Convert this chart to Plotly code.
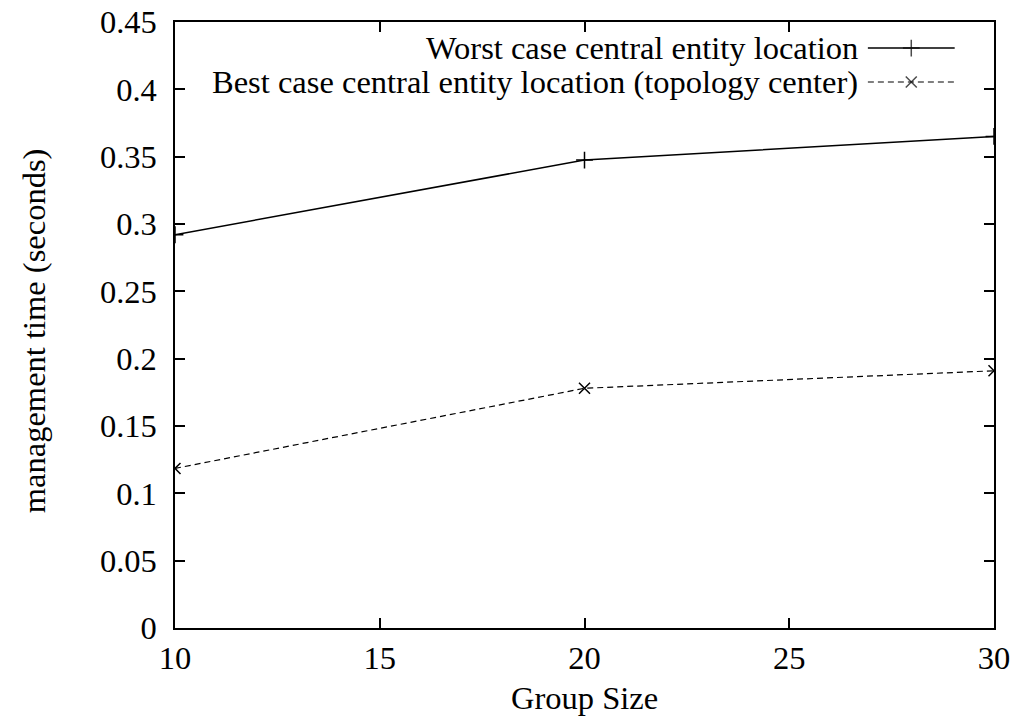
import plotly.graph_objects as go

# Group sizes and measured management time (seconds)
group_size = [10, 20, 30]
worst_case = [0.292, 0.3475, 0.365]
best_case = [0.1185, 0.178, 0.191]

series_names = [
    "Worst case central entity location",
    "Best case central entity location (topology center)",
]

y_ticks = [0, 0.05, 0.1, 0.15, 0.2, 0.25, 0.3, 0.35, 0.4, 0.45]
y_tick_text = ["0", "0.05", "0.1", "0.15", "0.2", "0.25", "0.3", "0.35", "0.4", "0.45"]
x_ticks = [10, 15, 20, 25, 30]

FONT = "Liberation Serif"
FS = 32.5

fig = go.Figure()

fig.add_trace(go.Scatter(
    x=group_size, y=worst_case, mode="lines+markers",
    line=dict(color="black", width=1.5),
    marker=dict(symbol="cross-thin", size=12, line=dict(color="black", width=1.5)),
    showlegend=False,
))
fig.add_trace(go.Scatter(
    x=group_size, y=best_case, mode="lines+markers",
    line=dict(color="black", width=1.2, dash="6px,4px"),
    marker=dict(symbol="x-thin", size=11, line=dict(color="black", width=1.5)),
    showlegend=False,
))

# gnuplot-style key: text right-aligned, sample line to its right
key_rows = [0.957, 0.901]
text_right = 0.836
line_x0, line_x1 = 0.846, 0.952
for i, (name, yk) in enumerate(zip(series_names, key_rows)):
    fig.add_annotation(
        x=text_right, y=yk, xref="paper", yref="paper",
        text=name, showarrow=False, xanchor="right", yanchor="middle",
        font=dict(family=FONT, size=FS, color="black"),
    )
    fig.add_shape(
        type="line", xref="paper", yref="paper",
        x0=line_x0, x1=line_x1, y0=yk, y1=yk,
        line=dict(color="black", width=1.5 if i == 0 else 1.2,
                  dash="solid" if i == 0 else "6px,4px"),
    )
xm = (line_x0 + line_x1) / 2
fig.add_trace(go.Scatter(
    x=[xm, xm], y=key_rows, xaxis="x2", yaxis="y2", mode="markers",
    marker=dict(symbol=["cross-thin", "x-thin"], size=[12, 11],
                line=dict(color="black", width=1.5), color="black"),
    showlegend=False, hoverinfo="skip",
))

# axis titles
fig.add_annotation(
    x=0.5, y=-0.115, xref="paper", yref="paper", text="Group Size",
    showarrow=False, xanchor="center", yanchor="middle",
    font=dict(family=FONT, size=FS, color="black"),
)
fig.add_annotation(
    x=-0.172, y=0.49, xref="paper", yref="paper", text="management time (seconds)",
    showarrow=False, xanchor="center", yanchor="middle", textangle=-90,
    font=dict(family=FONT, size=FS, color="black"),
)

axis_common = dict(
    showline=True, linecolor="black", linewidth=1.5, mirror="allticks",
    ticks="inside", ticklen=10, tickwidth=1.5, tickcolor="black",
    showgrid=False, zeroline=False, automargin=False,
    tickfont=dict(family=FONT, size=FS, color="black"),
)

fig.update_layout(
    width=1018, height=724,
    margin=dict(l=175, r=24, t=22, b=96),
    paper_bgcolor="white", plot_bgcolor="white",
    xaxis=dict(range=[10, 30], tickvals=x_ticks, ticklabelstandoff=0, **axis_common),
    yaxis=dict(range=[0, 0.45], tickvals=y_ticks, ticktext=y_tick_text,
               ticklabelstandoff=10, **axis_common),
    xaxis2=dict(domain=[0, 1], range=[0, 1], visible=False, overlaying="x"),
    yaxis2=dict(domain=[0, 1], range=[0, 1], visible=False, overlaying="y"),
    showlegend=False,
)

fig.write_html("out.html")
